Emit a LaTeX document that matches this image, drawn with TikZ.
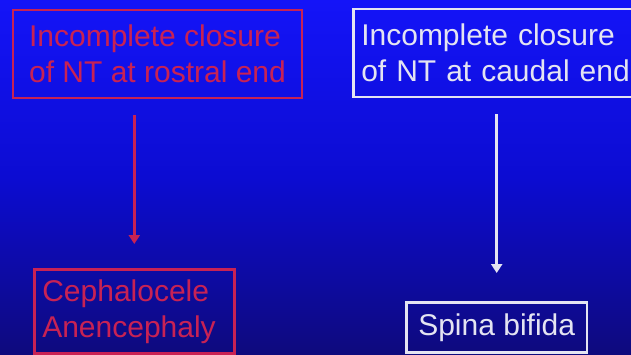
\documentclass[tikz,border=0pt]{standalone}
\usepackage{fontspec}
\setmainfont{Liberation Sans}
\usetikzlibrary{arrows.meta}
\definecolor{bgtop}{RGB}{20,20,248}
\definecolor{bgmid}{RGB}{12,12,210}
\definecolor{bgbot}{RGB}{14,10,125}
\definecolor{slred}{RGB}{200,34,84}
\definecolor{slwhite}{RGB}{228,228,242}
\tikzset{
  box/.style={draw, line width=2.6pt, font=\fontsize{30}{36}\selectfont, align=left, inner ysep=4pt},
  redbox/.style={box, draw=slred, text=slred},
  whitebox/.style={box, draw=slwhite, text=slwhite},
  arr/.style={line width=2.8pt, -{Triangle[width=11pt,length=9pt]}},
}
\begin{document}
\begin{tikzpicture}[x=1pt,y=-1pt]
\useasboundingbox (0,0) rectangle (631,354);
\clip (0,0) rectangle (631,354);
\shade[top color=bgtop, bottom color=bgbot, middle color=bgmid] (0,0) rectangle (631,354);
\node[redbox, minimum width=289pt, minimum height=88pt, inner xsep=8pt] (b1) at (157.5,54) {Incomplete closure\\of NT at rostral end};
\node[whitebox, anchor=west, text width=290pt, inner xsep=8pt, minimum height=88pt] (b2) at (352,53) {Incomplete closure\\of NT at caudal end};
\node[redbox, anchor=north west, text width=184pt, inner xsep=8pt, minimum height=84pt] (b3) at (33,268) {Cephalocele\\Anencephaly};
\node[whitebox, anchor=north west, inner xsep=12pt, minimum height=50pt] (b4) at (405,301) {Spina bifida};
\draw[arr, slred, shorten <=16pt, shorten >=24pt] (b1.south -| b3.north) -- (b3.north);
\draw[arr, slwhite, shorten <=16pt, shorten >=28pt] (b2.south -| b4.north) -- (b4.north);
\end{tikzpicture}
\end{document}
